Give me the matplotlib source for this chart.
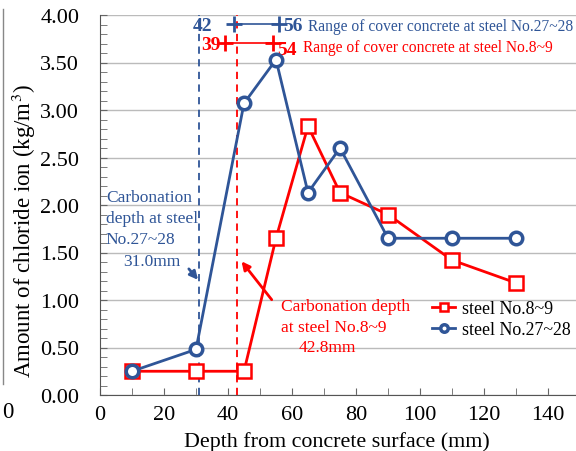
import numpy as np
import matplotlib
matplotlib.use("Agg")
import matplotlib.pyplot as plt
from matplotlib.lines import Line2D
from matplotlib.ticker import MultipleLocator, FormatStrFormatter

plt.rcParams['font.family'] = ['Liberation Serif', 'DejaVu Serif']
plt.rcParams['mathtext.fontset'] = 'stix'

# ── data ────────────────────────────────────────────────────
depth = [10, 30, 45, 55, 65, 75, 90, 110, 130]
steel_8_9 = [0.25, 0.25, 0.25, 1.65, 2.83, 2.13, 1.90, 1.42, 1.18]
steel_27_28 = [0.25, 0.48, 3.07, 3.53, 2.13, 2.60, 1.65, 1.65, 1.65]

carb_27_28 = 31.0
carb_8_9 = 42.8
cover_27_28 = (42, 56)
cover_8_9 = (39, 54)

RED = "#FF0000"
BLUE = "#2F5597"

fig = plt.figure(figsize=(5.76, 4.52), dpi=100)
fig.patch.set_facecolor("white")
ax = fig.add_axes([100/576, 56/452, 480/576, 380/452])

ax.set_xlim(0, 150)
ax.set_ylim(0, 4.0)
ax.xaxis.set_major_locator(MultipleLocator(20))
ax.xaxis.set_minor_locator(MultipleLocator(10))
ax.yaxis.set_major_locator(MultipleLocator(0.5))
ax.yaxis.set_minor_locator(MultipleLocator(0.1))
ax.yaxis.set_major_formatter(FormatStrFormatter("%.2f"))
ax.tick_params(which="both", direction="in", length=5, color="#666666",
               labelsize=16, top=False, right=False)
ax.tick_params(axis="y", which="major", pad=15)
ax.tick_params(axis="x", which="major", pad=7)
ax.yaxis.grid(True, color="#BBBBBB", lw=1, zorder=0)
ax.set_axisbelow(True)
for s in ["top", "right"]:
    ax.spines[s].set_visible(False)
ax.spines[["left", "bottom"]].set_color("#555555")

ax.set_xlabel("Depth from concrete surface (mm)", fontsize=15.8)
ax.xaxis.set_label_coords(0.494, -0.094)
ax.set_ylabel("Amount of chloride ion (kg/m$^3$)", fontsize=16.5)
ax.yaxis.set_label_coords(-0.13, 0.434)

# carbonation depth lines
ax.axvline(carb_27_28, color=BLUE, ls=(0, (4, 3)), lw=1.3, zorder=2)
ax.axvline(carb_8_9, color=RED, ls=(0, (4, 3)), lw=1.3, zorder=2)

# series
ax.plot(depth, steel_8_9, color=RED, lw=2, marker="s", ms=10,
        mfc="white", mec=RED, mew=1.8, label="steel No.8~9", zorder=4)
ax.plot(depth, steel_27_28, color=BLUE, lw=2, marker="o", ms=9,
        mfc="white", mec=BLUE, mew=2.5, label="steel No.27~28", zorder=4)

# cover concrete ranges
yb, yr = 3.905, 3.71
ax.plot(cover_27_28, [yb, yb], color=BLUE, lw=1.2, marker="+", ms=11, mew=2,
        zorder=5)
ax.plot(cover_8_9, [yr, yr], color=RED, lw=1.2, marker="+", ms=11, mew=2,
        zorder=5)
ax.text(35, 3.89, str(cover_27_28[0]), color=BLUE,
        fontsize=14, fontweight="bold", ha="right", va="center")
ax.text(57.2, 3.89, str(cover_27_28[1]), color=BLUE,
        fontsize=14, fontweight="bold", ha="left", va="center")
ax.text(65, 3.88, "Range of cover concrete at steel No.27~28",
        color=BLUE, fontsize=11.2, ha="left", va="center")
ax.text(37.6, 3.69, str(cover_8_9[0]), color=RED,
        fontsize=14, fontweight="bold", ha="right", va="center")
ax.text(55.3, 3.64, str(cover_8_9[1]), color=RED,
        fontsize=14, fontweight="bold", ha="left", va="center")
ax.text(63.5, 3.66, "Range of cover concrete at steel No.8~9",
        color=RED, fontsize=11.2, ha="left", va="center")

# carbonation annotations
ax.text(1.8, 1.86, "Carbonation\ndepth at steel\nNo.27~28", color=BLUE,
        fontsize=12.5, ha="left", va="center", linespacing=1.4)
ax.text(16.3, 1.41, "31.0mm", color=BLUE, fontsize=12.5, ha="center",
        va="center")
ax.annotate("", xy=(carb_27_28 + 0.2, 1.19), xytext=(27.2, 1.35),
            arrowprops=dict(arrowstyle="-|>", color=BLUE, lw=2,
                            mutation_scale=12))
ax.text(56.6, 0.83, "Carbonation depth\nat steel No.8~9", color=RED,
        fontsize=12.5, ha="left", va="center", linespacing=1.4)
ax.text(71, 0.50, "42.8mm", color=RED, fontsize=12.5, ha="center",
        va="center")
ax.annotate("", xy=(carb_8_9 + 0.9, 1.43), xytext=(54.2, 0.98),
            arrowprops=dict(arrowstyle="-|>", color=RED, lw=2,
                            mutation_scale=12))

ax.legend(loc="upper left", bbox_to_anchor=(0.692, 0.249), frameon=False,
          fontsize=12.9, handlelength=1.3, borderaxespad=0, borderpad=0,
          labelspacing=0.2, handletextpad=0.35, markerscale=0.6)

# sliver of neighbouring chart at the left edge
fig.add_artist(Line2D([3/576, 3/576], [1 - 10/452, 1 - 385/452],
                      color="#888888", lw=1))
fig.text(8/576, 1 - 413/452, "0", fontsize=16.5, ha="center", va="center")

fig.savefig("out.png", dpi=100, facecolor="white")
